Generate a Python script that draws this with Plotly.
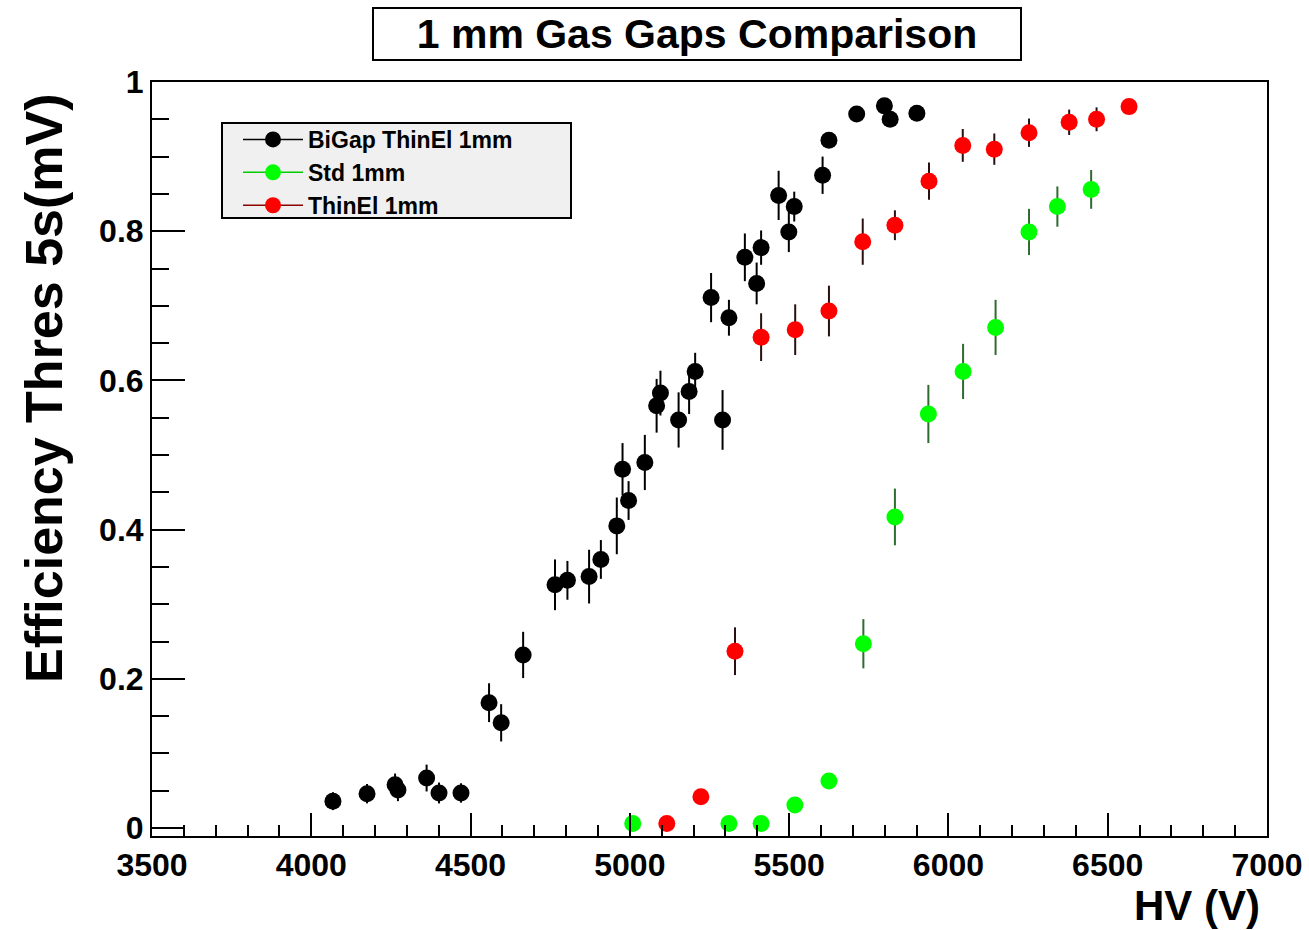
import plotly.graph_objects as go

# HV scan results: applied voltage (V), efficiency and its uncertainty
bigap_hv = [4068, 4175, 4263, 4272, 4362, 4401, 4470, 4558, 4596, 4665,
            4765, 4804, 4872, 4909, 4959, 4977, 4996, 5047, 5084, 5096,
            5153, 5186, 5205, 5255, 5291, 5311, 5361, 5398, 5412, 5467,
            5499, 5516, 5605, 5625, 5712, 5799, 5817, 5901]
bigap_eff = [0.036, 0.046, 0.058, 0.051, 0.067, 0.047, 0.047, 0.168, 0.141, 0.232,
             0.326, 0.332, 0.337, 0.360, 0.405, 0.481, 0.439, 0.490, 0.566, 0.583,
             0.547, 0.585, 0.612, 0.711, 0.547, 0.684, 0.765, 0.730, 0.778, 0.848,
             0.799, 0.833, 0.875, 0.922, 0.957, 0.968, 0.950, 0.958]
bigap_err = [0.012, 0.013, 0.015, 0.015, 0.018, 0.014, 0.013, 0.026, 0.025, 0.031,
             0.034, 0.026, 0.036, 0.026, 0.038, 0.035, 0.026, 0.037, 0.036, 0.030,
             0.037, 0.030, 0.025, 0.033, 0.040, 0.024, 0.032, 0.028, 0.023, 0.033,
             0.027, 0.020, 0.025, 0.010, 0.008, 0.008, 0.008, 0.008]

std_hv = [5009, 5311, 5412, 5518, 5625, 5733, 5832, 5937, 6046, 6148, 6253, 6342, 6448]
std_eff = [0.006, 0.006, 0.006, 0.031, 0.063, 0.247, 0.417, 0.555, 0.612, 0.671,
           0.799, 0.833, 0.856]
std_err = [0.006, 0.005, 0.005, 0.008, 0.010, 0.033, 0.038, 0.039, 0.037, 0.037,
           0.031, 0.027, 0.026]

thin_hv = [5116, 5223, 5330, 5412, 5519, 5625, 5731, 5832, 5939, 6045, 6144,
           6253, 6379, 6465, 6567]
thin_eff = [0.006, 0.042, 0.237, 0.658, 0.668, 0.693, 0.786, 0.808, 0.867, 0.915,
            0.910, 0.932, 0.946, 0.950, 0.967]
thin_err = [0.005, 0.008, 0.032, 0.032, 0.034, 0.034, 0.031, 0.020, 0.025, 0.022,
            0.021, 0.019, 0.017, 0.016, 0.010]

series = [
    ("BiGap ThinEl 1mm", bigap_hv, bigap_eff, bigap_err, "#000000", "#000000", "#000000"),
    ("Std 1mm", std_hv, std_eff, std_err, "#00ff00", "#2f6b2f", "#00cc00"),
    ("ThinEl 1mm", thin_hv, thin_eff, thin_err, "#ff0000", "#2a1010", "#8b0000"),
]

FONT = "Liberation Sans, Arial, Helvetica, sans-serif"

# plot frame in pixels
W, H = 1309, 930
L, R, T, B = 152, 1267, 82, 836


def px_x(p):
    return (p - L) / (R - L)


def px_y(p):
    return (B - p) / (B - T)


fig = go.Figure()

for name, hv, eff, err, mcol, ecol, lcol in series:
    fig.add_trace(go.Scatter(
        x=hv, y=eff, mode="markers", name=name, showlegend=False,
        marker=dict(symbol="circle", size=17, color=mcol),
        error_y=dict(type="data", array=err, visible=True, color=ecol,
                     thickness=2, width=0),
    ))

# legend entries drawn as line + marker
for name, hv, eff, err, mcol, ecol, lcol in series:
    fig.add_trace(go.Scatter(
        x=[None], y=[None], mode="lines+markers", name=name,
        marker=dict(symbol="circle", size=16, color=mcol),
        line=dict(color=lcol, width=1.5),
    ))

fig.update_layout(
    width=W, height=H,
    margin=dict(l=L, r=W - R, t=T, b=H - B, autoexpand=False),
    paper_bgcolor="white", plot_bgcolor="white",
    font=dict(family=FONT, color="black"),
    showlegend=True,
    legend=dict(
        x=px_x(238), y=px_y(118), xanchor="left", yanchor="top",
        bgcolor="rgba(0,0,0,0)", borderwidth=0,
        font=dict(family=FONT, size=23, color="black", weight="bold"),
        itemwidth=60,
    ),
    # legend frame
    shapes=[dict(type="rect", xref="paper", yref="paper",
                 x0=px_x(222), x1=px_x(571), y0=px_y(218), y1=px_y(123),
                 fillcolor="#f0f0f0", line=dict(color="black", width=2),
                 layer="below")],
    xaxis=dict(
        range=[3500, 7000], showgrid=False, zeroline=False,
        showline=True, linecolor="black", linewidth=2, mirror=True,
        ticks="inside", ticklen=23, tickwidth=2, tickcolor="black",
        tick0=3500, dtick=500,
        tickfont=dict(family=FONT, size=32, color="black", weight="bold"),
        minor=dict(ticks="inside", ticklen=11, tickwidth=2, tickcolor="black",
                   dtick=100, showgrid=False),
    ),
    yaxis=dict(
        range=[-0.0107, 1.0], showgrid=False, zeroline=False,
        showline=True, linecolor="black", linewidth=2, mirror=True,
        ticks="inside", ticklen=33, tickwidth=2, tickcolor="black",
        tick0=0, dtick=0.2,
        tickfont=dict(family=FONT, size=32, color="black", weight="bold"),
        minor=dict(ticks="inside", ticklen=17, tickwidth=2, tickcolor="black",
                   dtick=0.05, showgrid=False),
    ),
    annotations=[
        dict(text="1 mm Gas Gaps Comparison", xref="paper", yref="paper",
             x=px_x(697), y=px_y(34),
             xanchor="center", yanchor="middle", showarrow=False,
             width=642, height=46, bgcolor="white",
             bordercolor="black", borderwidth=2, borderpad=2,
             font=dict(family=FONT, size=41, color="black", weight="bold")),
        dict(text="Efficiency Thres 5s(mV)", xref="paper", yref="paper",
             x=px_x(44), y=px_y(388), textangle=-90,
             xanchor="center", yanchor="middle", showarrow=False,
             font=dict(family=FONT, size=52, color="black", weight="bold")),
        dict(text="HV (V)", xref="paper", yref="paper",
             x=px_x(1262), y=px_y(905),
             xanchor="right", yanchor="middle", showarrow=False,
             font=dict(family=FONT, size=42, color="black", weight="bold")),
    ],
)

fig.write_html("out.html")
